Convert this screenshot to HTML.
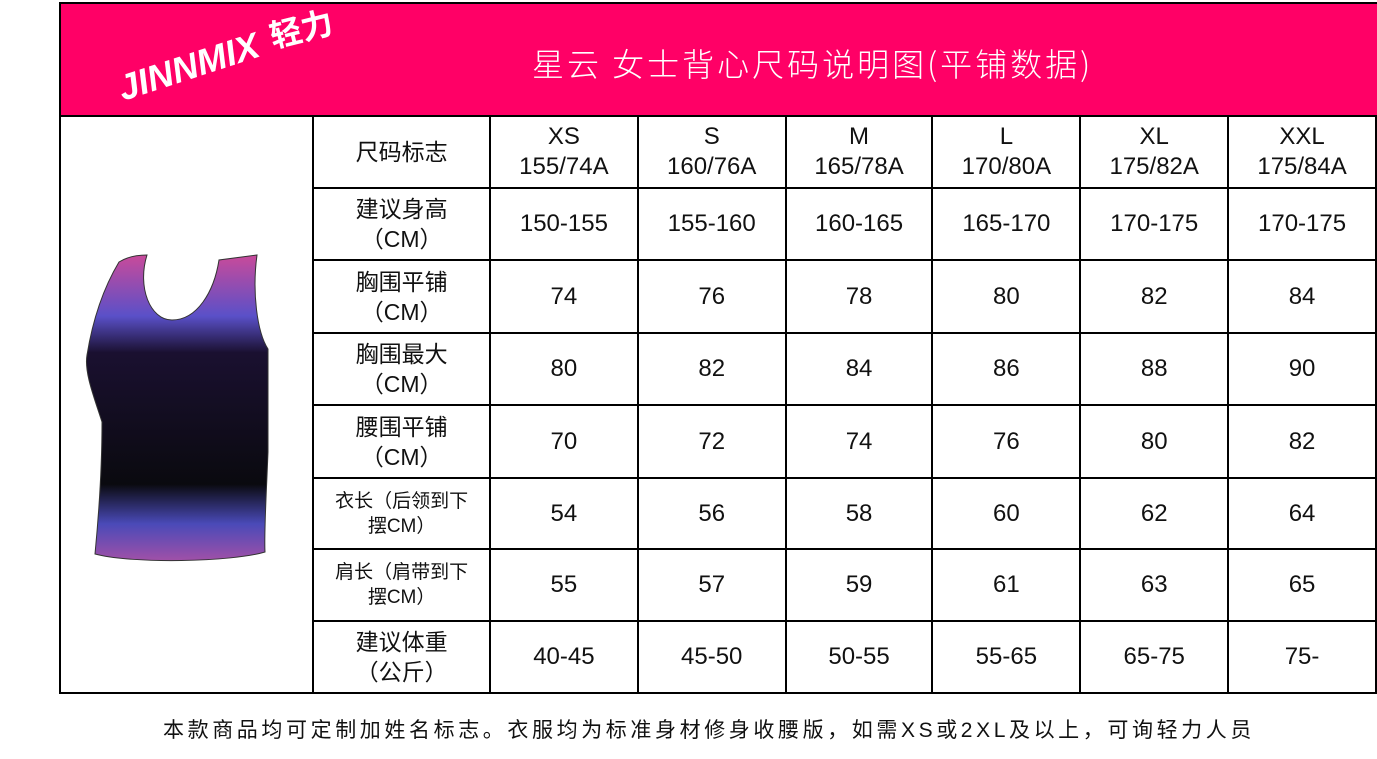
<!DOCTYPE html>
<html><head><meta charset="utf-8"><style>
body{margin:0;width:1377px;height:759px;background:#fff;position:relative;overflow:hidden;font-family:"Liberation Sans","Noto Sans CJK SC",sans-serif;}
.hdr{position:absolute;left:59px;top:2px;width:1316px;height:111px;background:#ff0066;border:2px solid #000;}
.title{position:absolute;left:471px;top:36px;color:#fff;font-size:32px;white-space:nowrap;letter-spacing:3px;font-family:"Noto Sans CJK SC","Liberation Sans",sans-serif;font-weight:300;}
table{position:absolute;left:59px;top:115px;border-collapse:collapse;}
td{border:2px solid #000;text-align:center;font-size:24px;color:#111;padding:0;line-height:30px;}
td.l{font-size:23px;}
td.s{font-size:19px;line-height:25px;}
.foot{position:absolute;left:163px;top:714px;font-size:21px;color:#111;white-space:nowrap;letter-spacing:3.6px;}
</style></head><body>
<div class="hdr">
<svg width="320" height="111" style="position:absolute;left:0;top:0">
<text transform="translate(62,97) rotate(-18)" fill="#fff" font-size="36" font-weight="bold" font-style="italic" font-family="Liberation Sans,sans-serif">JINNMIX</text>
<text transform="translate(212,44) rotate(-14)" fill="#fff" font-size="32" font-weight="bold" font-family="Noto Sans CJK SC,sans-serif">轻力</text>
</svg>
<div class="title">星云 女士背心尺码说明图(平铺数据)</div>
</div>
<table>
<colgroup><col style="width:254px"><col style="width:177px"><col style="width:148px"><col style="width:148px"><col style="width:147px"><col style="width:148px"><col style="width:148px"><col style="width:148px"></colgroup>
<tr style="height:72px"><td rowspan="8" style="position:relative">
<svg width="254" height="576" viewBox="59 115 254 576" style="position:absolute;left:0;top:0">
<defs><linearGradient id="g" x1="0" y1="0" x2="0" y2="1">
<stop offset="0" stop-color="#c94a9a"/><stop offset="0.2" stop-color="#5a50c8"/><stop offset="0.32" stop-color="#1a1030"/><stop offset="0.75" stop-color="#0a0a0f"/><stop offset="0.88" stop-color="#4a4ab8"/><stop offset="1" stop-color="#a050a8"/></linearGradient></defs>
<path d="M117,260 C125,255 135,253 145,253 C135,285 148,318 170,318 C195,318 212,290 217,258 L255,253 C250,290 255,330 266,347 L266,450 C264,500 262,530 263,550 C230,560 130,562 93,552 C98,500 100,460 100,420 C92,395 82,370 85,353 C92,310 105,280 117,260 Z" fill="url(#g)" stroke="#333" stroke-width="1"/>
</svg></td>
<td class="l">尺码标志</td><td>XS<br>155/74A</td><td>S<br>160/76A</td><td>M<br>165/78A</td><td>L<br>170/80A</td><td>XL<br>175/82A</td><td>XXL<br>175/84A</td></tr>
<tr style="height:72px"><td class="l">建议身高<br>（CM）</td><td>150-155</td><td>155-160</td><td>160-165</td><td>165-170</td><td>170-175</td><td>170-175</td></tr>
<tr style="height:73px"><td class="l">胸围平铺<br>（CM）</td><td>74</td><td>76</td><td>78</td><td>80</td><td>82</td><td>84</td></tr>
<tr style="height:72px"><td class="l">胸围最大<br>（CM）</td><td>80</td><td>82</td><td>84</td><td>86</td><td>88</td><td>90</td></tr>
<tr style="height:73px"><td class="l">腰围平铺<br>（CM）</td><td>70</td><td>72</td><td>74</td><td>76</td><td>80</td><td>82</td></tr>
<tr style="height:71px"><td class="s">衣长（后领到下<br>摆CM）</td><td>54</td><td>56</td><td>58</td><td>60</td><td>62</td><td>64</td></tr>
<tr style="height:72px"><td class="s">肩长（肩带到下<br>摆CM）</td><td>55</td><td>57</td><td>59</td><td>61</td><td>63</td><td>65</td></tr>
<tr style="height:72px"><td class="l">建议体重<br>（公斤）</td><td>40-45</td><td>45-50</td><td>50-55</td><td>55-65</td><td>65-75</td><td>75-</td></tr>
</table>
<div class="foot">本款商品均可定制加姓名标志。衣服均为标准身材修身收腰版，如需XS或2XL及以上，可询轻力人员</div>
</body></html>
